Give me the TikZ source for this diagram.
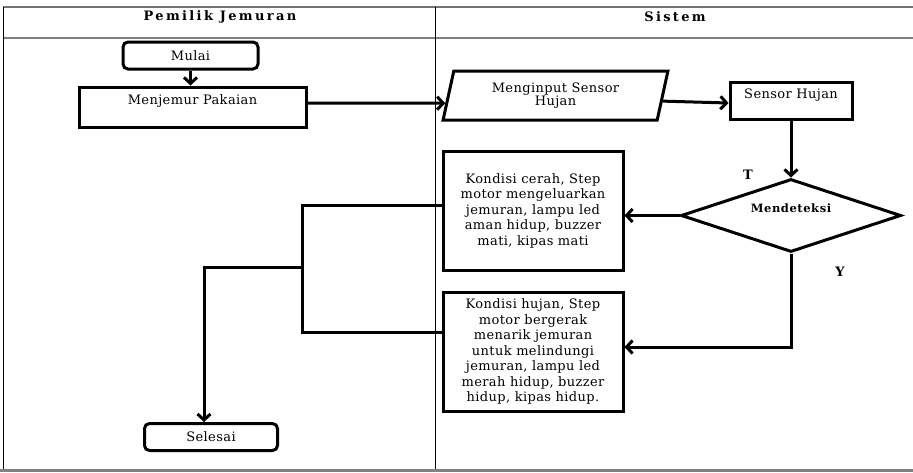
\documentclass[tikz,border=0pt]{standalone}
\usepackage{fontspec}
\setmainfont{DejaVu Serif}
\usetikzlibrary{shapes.geometric,arrows.meta,calc}
\begin{document}
\begin{tikzpicture}[x=1pt,y=-1pt,
  every node/.style={inner sep=0pt},
  txt/.style={font=\fontsize{13pt}{15.5pt}\selectfont\addfontfeatures{LetterSpace=3}, align=center},
  boxthick/.style={draw, line width=3pt, txt},
  roundbox/.style={boxthick, rounded corners=5pt},
  conn/.style={line width=3pt},
  arr/.style={conn, -{Straight Barb[length=6pt,width=13pt]}},
  head/.style={font=\fontsize{13pt}{16pt}\selectfont\bfseries\addfontfeatures{LetterSpace=18}},
  dfont/.style={font=\fontsize{11.5pt}{14pt}\selectfont\bfseries\addfontfeatures{LetterSpace=5}},
  frameg/.style={draw=black!50, line width=2pt},
]
\useasboundingbox (0,0) rectangle (913,472);
% frame
\draw[draw=black!55, line width=1.5pt] (3,7) -- (913,7);
\draw[frameg] (3,38) -- (913,38);
\draw[black, line width=1pt] (3,7) -- (3,470);
\draw[black, line width=1pt] (435,7) -- (435,470);
\draw[draw=black!50, line width=2.5pt] (0,470.5) -- (913,470.5);
% headers
\node[head] (h1) at (220,17) {Pemilik Jemuran};
\node[head] (h2) at (675,17) {Sistem};
% nodes
\node[roundbox, minimum width=135pt, minimum height=27pt] (mulai) at (190.5,55.5) {Mulai};
\node[boxthick, minimum width=227pt, minimum height=40pt, text height=10pt, text depth=15pt] (menjemur) at (192.5,107) {Menjemur Pakaian};
\node[trapezium, trapezium left angle=75, trapezium right angle=105, trapezium stretches=true,
      draw, line width=3pt, txt, font=\fontsize{13pt}{12.5pt}\selectfont\addfontfeatures{LetterSpace=3},
      minimum width=225pt, minimum height=49pt] (para) at (555.5,95.5) {Menginput Sensor\\Hujan};
\node[boxthick, minimum width=122pt, minimum height=37pt, text height=10pt, text depth=14pt] (sensor) at (791,100.5) {Sensor Hujan};
\node[diamond, aspect=3, draw, line width=3pt, dfont, minimum width=220pt, minimum height=73pt,
      text height=9pt, text depth=16pt] (deteksi) at (791,215.5) {Mendeteksi};
\node[boxthick, minimum width=180pt, minimum height=119pt] (cerah) at (533,210.5)
  {Kondisi cerah, Step\\motor mengeluarkan\\jemuran, lampu led\\aman hidup, buzzer\\mati, kipas mati};
\node[boxthick, minimum width=180pt, minimum height=119pt] (hujan) at (533,351.5)
  {Kondisi hujan, Step\\motor bergerak\\menarik jemuran\\untuk melindungi\\jemuran, lampu led\\merah hidup, buzzer\\hidup, kipas hidup.};
\node[roundbox, minimum width=133pt, minimum height=27pt] (selesai) at (211,437) {Selesai};
\node[head] (tlabel) at (748,175) {T};
\node[head] (ylabel) at (840,272) {Y};
\coordinate (jv) at (302,267);
\coordinate (jl) at (204,267);
% connectors
\draw[arr] (mulai.south) -- (mulai.south |- menjemur.north);
\draw[arr] ([yshift=4pt]menjemur.east) -- (para.184);
\draw[arr] (para.357) -- ([yshift=-2.5pt]sensor.west);
\draw[arr] (sensor.south) -- (deteksi.north);
\draw[arr] (deteksi.west) -- (deteksi.west -| cerah.east);
\draw[arr] (deteksi.south) |- ([yshift=4.5pt]hujan.east);
\draw[conn] ([yshift=5.5pt]cerah.west) -| (jv) |- ([yshift=19.5pt]hujan.west);
\draw[arr] (jv) -- (jl) -- (jl |- selesai.north);
\end{tikzpicture}
\end{document}
